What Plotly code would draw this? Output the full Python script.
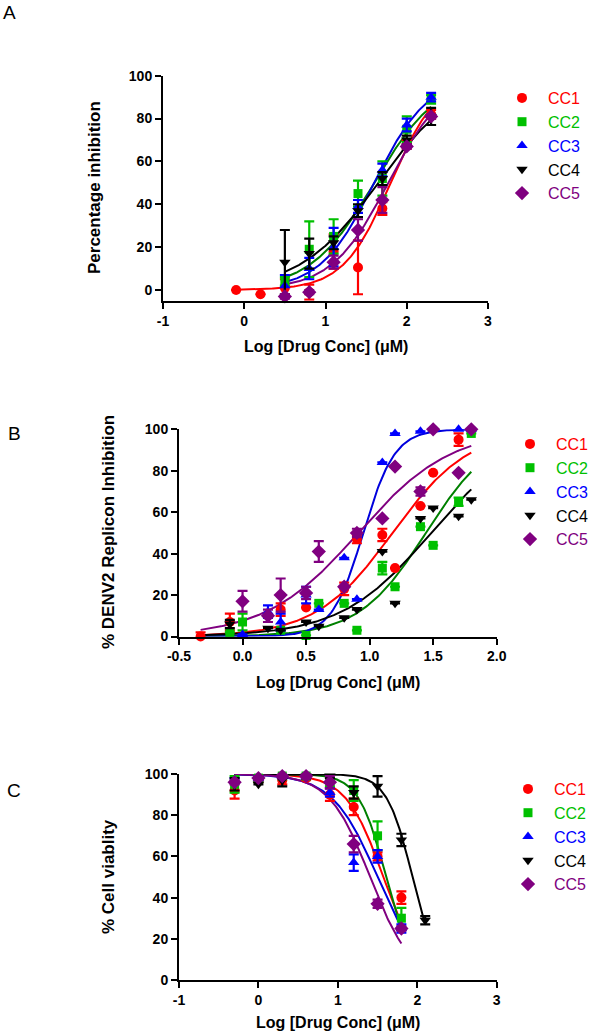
import numpy as np
import plotly.graph_objects as go

# ---------------- DATA ----------------
series_names = ["CC1", "CC2", "CC3", "CC4", "CC5"]

# Panel A: Percentage inhibition
A_x_cc1 = [-0.1, 0.2, 0.5, 0.8, 1.1, 1.4, 1.7, 2.0, 2.3]
A_x = [0.5, 0.8, 1.1, 1.4, 1.7, 2.0, 2.3]
A_cc1 = [0, -2, 1, -1, 18, 10.5, 38, 68, 82]
A_cc1_err = [0, 0, 4, 3.5, 8, 12.5, 3, 2, 2]
A_cc2 = [4, 19, 25, 45, 52, 75, 89]
A_cc2_err = [2, 13, 8, 6, 8, 6, 2]
A_cc3 = [2, 10, 20, 39, 56, 77, 90]
A_cc3_err = [5, 5, 9, 3, 3, 3, 2]
A_cc4 = [13, 17, 22, 37, 52, 70, 81]
A_cc4_err = [15, 7, 3, 3, 3, 2, 4]
A_cc5 = [-3, -1, 13, 28, 42, 67, 81]
A_cc5_err = [1, 1, 3, 5, 6, 1, 1]
# fitted sigmoid parameters (bottom, top, logIC50, hill, x_start, x_end)
A_fit = [(0, 100, 1.80, 1.50, -0.1, 2.3),
         (0, 100, 1.60, 1.10, 0.5, 2.3),
         (0, 100, 1.60, 1.30, 0.5, 2.3),
         (0, 100, 1.65, 0.90, 0.5, 2.3),
         (0, 100, 1.77, 1.25, 0.5, 2.3)]
A_xtickvals = [-1, 0, 1, 2, 3]
A_xticktext = ["-1", "0", "1", "2", "3"]

# Panel B: % DENV2 Replicon Inhibition
B_x_cc1 = [-0.33, -0.1, 0.3, 0.5, 0.8, 0.9, 1.1, 1.2, 1.4, 1.5, 1.7]
B_cc1 = [0, 7, 13, 14, 23, 47, 49, 33, 63, 79, 95]
B_cc1_err = [2, 4, 3, 0, 3, 2, 3, 0, 0, 0, 3]
B_x_cc2 = [-0.1, 0.0, 0.3, 0.5, 0.6, 0.8, 0.9, 1.1, 1.2, 1.4, 1.5, 1.7, 1.8]
B_cc2 = [2, 7, 3, 0.5, 16, 16, 3, 33, 24, 53, 44, 65, 98]
B_cc2_err = [0, 4, 0, 0, 0, 0, 0, 3, 0, 0, 0, 2, 0]
B_x_cc3 = [0.0, 0.2, 0.3, 0.5, 0.6, 0.8, 0.9, 1.1, 1.2, 1.4, 1.5, 1.7, 1.8]
B_cc3 = [1, 12, 7, 20, 13, 38, 18, 84, 98, 99, 100, 100, 100]
B_cc3_err = [0, 3, 4, 4, 0, 0, 0, 0, 0, 0, 0, 0, 0]
B_x_cc4 = [-0.1, 0.2, 0.3, 0.5, 0.6, 0.8, 0.9, 1.1, 1.2, 1.4, 1.5, 1.7, 1.8]
B_cc4 = [6, 4, 3, 7, 5, 9, 13, 41, 16, 57, 62, 58, 66]
B_cc4_err = [2, 0, 0, 0, 0, 0, 0, 0, 0, 0, 0, 0, 0]
B_x_cc5 = [0.0, 0.2, 0.3, 0.5, 0.6, 0.8, 0.9, 1.1, 1.2, 1.4, 1.5, 1.7, 1.8]
B_cc5 = [17, 10, 20, 21, 41, 24, 50, 57, 82, 70, 100, 79, 100]
B_cc5_err = [5, 3, 8, 3, 5, 0, 2, 0, 0, 2, 0, 0, 0]
B_fit = [(0, 100, 1.180, 1.445, -0.33, 1.8),
         (0, 100, 1.443, 1.648, -0.33, 1.8),
         (0, 100, 0.950, 3.500, -0.33, 1.8),
         (0, 100, 1.483, 1.228, -0.33, 1.8),
         (0, 100, 0.911, 1.193, -0.33, 1.8)]
B_xtickvals = [-0.5, 0.0, 0.5, 1.0, 1.5, 2.0]
B_xticktext = ["-0.5", "0.0", "0.5", "1.0", "1.5", "2.0"]

# Panel C: % Cell viability
C_x = [-0.3, 0.0, 0.3, 0.6, 0.9, 1.2, 1.5, 1.8]
C_x_cc4 = [-0.3, 0.0, 0.3, 0.6, 0.9, 1.2, 1.5, 1.8, 2.1]
C_cc1 = [92, 97, 97, 98, 90, 84, 60, 40]
C_cc1_err = [4, 1, 2, 1, 3, 4, 2, 3]
C_cc2 = [95, 98, 99, 99, 96, 92, 70, 30]
C_cc2_err = [4, 2, 1, 1, 2, 5, 7, 5]
C_cc3 = [97, 98, 99, 99, 91, 57, 60, 25]
C_cc3_err = [1, 1, 1, 1, 2, 4, 3, 2]
C_cc4 = [95, 95, 97, 99, 99, 91, 94, 68, 29]
C_cc4_err = [3, 0, 3, 1, 1, 3, 5, 3, 2]
C_cc5 = [96, 98, 99, 99, 96, 66, 37, 25]
C_cc5_err = [1, 1, 1, 1, 3, 4, 2, 1]
C_fit = [(0, 100, 1.574, -1.84, -0.3, 1.8),
         (0, 100, 1.607, -2.52, -0.3, 1.8),
         (0, 100, 1.500, -1.52, -0.3, 1.8),
         (0, 100, 1.940, -2.69, -0.3, 2.1),
         (0, 100, 1.406, -1.69, -0.3, 1.8)]
C_xtickvals = [-1, 0, 1, 2, 3]
C_xticktext = ["-1", "0", "1", "2", "3"]

Y_tickvals = [0, 20, 40, 60, 80, 100]

# ---------------- STYLE ----------------
marker_colors = ["#ff0000", "#00c000", "#0000ff", "#000000", "#800080"]
line_colors = ["#ff0000", "#008000", "#0000dd", "#000000", "#800080"]
symbols = ["circle", "square", "triangle-up", "triangle-down", "diamond"]
sizes = [10, 9, 10, 10, 11]
FONT = "Liberation Sans, Arial, Helvetica, sans-serif"

panels = [
    dict(xs=[A_x_cc1, A_x, A_x, A_x, A_x],
         ys=[A_cc1, A_cc2, A_cc3, A_cc4, A_cc5],
         es=[A_cc1_err, A_cc2_err, A_cc3_err, A_cc4_err, A_cc5_err],
         fit=A_fit, ax="", legend="legend"),
    dict(xs=[B_x_cc1, B_x_cc2, B_x_cc3, B_x_cc4, B_x_cc5],
         ys=[B_cc1, B_cc2, B_cc3, B_cc4, B_cc5],
         es=[B_cc1_err, B_cc2_err, B_cc3_err, B_cc4_err, B_cc5_err],
         fit=B_fit, ax="2", legend="legend2"),
    dict(xs=[C_x, C_x, C_x, C_x_cc4, C_x],
         ys=[C_cc1, C_cc2, C_cc3, C_cc4, C_cc5],
         es=[C_cc1_err, C_cc2_err, C_cc3_err, C_cc4_err, C_cc5_err],
         fit=C_fit, ax="3", legend="legend3"),
]


def sigmoid(x, bottom, top, logic50, hill):
    return bottom + (top - bottom) / (1 + 10 ** ((logic50 - x) * hill))


fig = go.Figure()
for p in panels:
    xa = "x" + p["ax"]
    ya = "y" + p["ax"]
    # fitted curves
    for i in range(5):
        b, t, c, h, x0, x1 = p["fit"][i]
        xc = np.linspace(x0, x1, 200)
        fig.add_trace(go.Scatter(
            x=xc, y=sigmoid(xc, b, t, c, h), mode="lines",
            line=dict(color=line_colors[i], width=2),
            xaxis=xa, yaxis=ya, showlegend=False, hoverinfo="skip",
            cliponaxis=False))
    # data points with error bars
    for i in range(5):
        err = [e if e > 0 else None for e in p["es"][i]]
        fig.add_trace(go.Scatter(
            x=p["xs"][i], y=p["ys"][i], mode="markers",
            name="<span style='color:%s'>%s</span>" % (marker_colors[i], series_names[i]),
            marker=dict(symbol=symbols[i], size=sizes[i], color=marker_colors[i]),
            error_y=dict(type="data", array=err, visible=True,
                         color=marker_colors[i], thickness=2.2, width=5),
            xaxis=xa, yaxis=ya, legend=p["legend"], legendgroup=p["legend"] + str(i),
            cliponaxis=False))

W, H = 591, 1035
def px_x(v):
    return v / W
def px_y(v):
    return 1 - v / H

axis_common = dict(showline=True, linecolor="black", linewidth=2, ticks="outside",
                   ticklen=6, tickwidth=2, tickcolor="black", showgrid=False,
                   zeroline=False, mirror=False, automargin=False,
                   tickfont=dict(family=FONT, size=14, color="black", weight="bold"))

fig.update_layout(
    width=W, height=H, margin=dict(l=0, r=0, t=0, b=0, autoexpand=False),
    plot_bgcolor="white", paper_bgcolor="white",
    font=dict(family=FONT, color="black"),
    xaxis=dict(domain=[px_x(163), px_x(488)], range=[-1, 3], tickvals=A_xtickvals, ticktext=A_xticktext,
               anchor="y", **axis_common),
    yaxis=dict(domain=[px_y(300.7), px_y(75.7)], range=[-5, 100], tickvals=Y_tickvals, anchor="x", **axis_common),
    xaxis2=dict(domain=[px_x(179), px_x(496.7)], range=[-0.5, 2.0], tickvals=B_xtickvals, ticktext=B_xticktext,
                anchor="y2", **axis_common),
    yaxis2=dict(domain=[px_y(636.5), px_y(429.3)], range=[0, 100], tickvals=Y_tickvals, anchor="x2", **axis_common),
    xaxis3=dict(domain=[px_x(179), px_x(496.7)], range=[-1, 3], tickvals=C_xtickvals, ticktext=C_xticktext,
                anchor="y3", **axis_common),
    yaxis3=dict(domain=[px_y(980), px_y(774)], range=[0, 100], tickvals=Y_tickvals, anchor="x3", **axis_common),
)

legend_common = dict(font=dict(family=FONT, size=16, color="black"), bgcolor="rgba(0,0,0,0)",
                     borderwidth=0, tracegroupgap=0, xanchor="left", yanchor="top",
                     itemwidth=42, itemclick=False, itemdoubleclick=False)
fig.update_layout(
    legend=dict(x=px_x(496), y=px_y(81), **legend_common),
    legend2=dict(x=px_x(504), y=px_y(427), **legend_common),
    legend3=dict(x=px_x(502), y=px_y(772), **legend_common),
)

annotations = []
# panel letters
for letter, xx, yy in [("A", 9, 12), ("B", 14, 433), ("C", 14, 790)]:
    annotations.append(dict(text=letter, x=px_x(xx), y=px_y(yy), xref="paper", yref="paper",
                            showarrow=False, font=dict(family=FONT, size=19, color="black"),
                            xanchor="center", yanchor="middle"))
# axis titles
xt = "<b>Log [Drug Conc] (\u03bcM)</b>"
for xx, yy in [(325.5, 346), (338, 682), (338, 1022)]:
    annotations.append(dict(text=xt, x=px_x(xx), y=px_y(yy), xref="paper", yref="paper",
                            showarrow=False, font=dict(family=FONT, size=16, color="black"),
                            xanchor="center", yanchor="middle"))
for txt, xx, yy in [("Percentage inhibition", 95, 188), ("% DENV2 Replicon Inhibition", 108, 532),
                    ("% Cell viablity", 108, 877)]:
    annotations.append(dict(text="<b>%s</b>" % txt, x=px_x(xx), y=px_y(yy), xref="paper", yref="paper",
                            showarrow=False, textangle=-90,
                            font=dict(family=FONT, size=17, color="black"),
                            xanchor="center", yanchor="middle"))
fig.update_layout(annotations=annotations)

fig.write_html("out.html", config={"displayModeBar": False},
               post_script="document.body.style.margin='0';document.body.style.padding='0';")
